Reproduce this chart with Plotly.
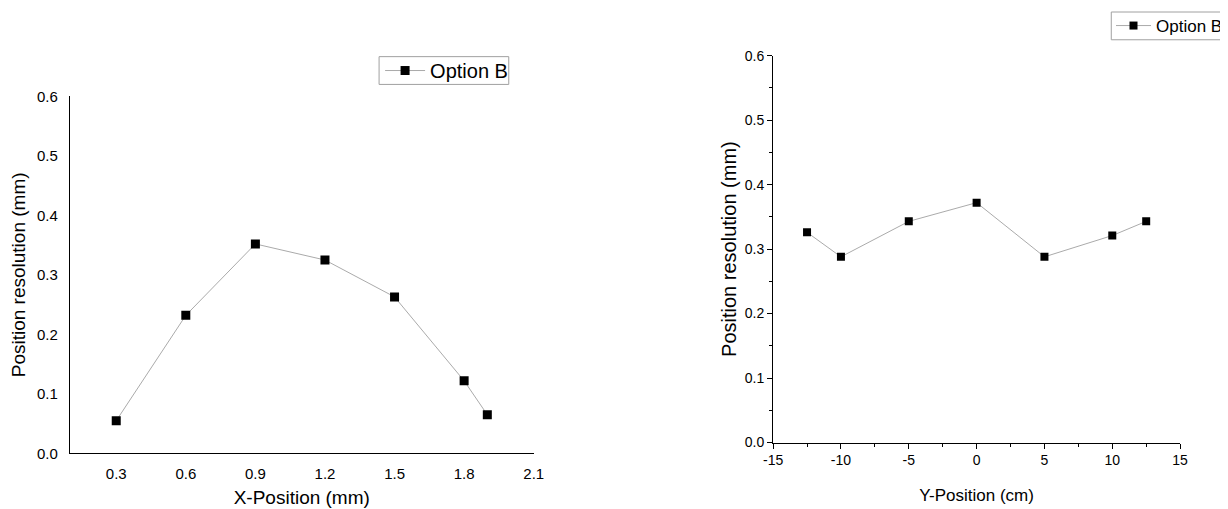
import plotly.graph_objects as go

# Data
x_pos_mm = [0.3, 0.6, 0.9, 1.2, 1.5, 1.8, 1.9]
res_x = [0.055, 0.232, 0.352, 0.325, 0.263, 0.122, 0.065]

y_pos_cm = [-12.5, -10, -5, 0, 5, 10, 12.5]
res_y = [0.326, 0.288, 0.343, 0.372, 0.288, 0.321, 0.343]

x2_ticks = [-15, -10, -5, 0, 5, 10, 15]
x2_ticktext = ["-15", "-10", "-5", "0", "5", "10", "15"]

series_name = "Option B"

# page body has an 8px margin; figure sized to fit the window
OFF = 8
W, H = 1220, 501
def px(x):
    return (x - OFF) / W
def py(y):
    return 1 - (y - OFF) / H

FONT = "Liberation Sans, Arial, sans-serif"

fig = go.Figure()
fig.add_trace(go.Scatter(
    x=x_pos_mm, y=res_x, mode="lines+markers", name=series_name,
    line=dict(color="#a0a0a0", width=0.9),
    marker=dict(symbol="square", size=9, color="black"),
    xaxis="x", yaxis="y", legend="legend",
))
fig.add_trace(go.Scatter(
    x=y_pos_cm, y=res_y, mode="lines+markers", name=series_name,
    line=dict(color="#a0a0a0", width=0.9),
    marker=dict(symbol="square", size=8, color="black"),
    xaxis="x2", yaxis="y2", legend="legend2",
))

# right legend frame: open on the right (cut by the window edge)
rx0, rx1, ry0, ry1 = px(1114), 1.0, py(36), py(8)
right_frame = f"M {rx1},{ry0} L {rx0},{ry0} L {rx0},{ry1} L {rx1},{ry1}"

fig.update_layout(
    width=W, height=H,
    margin=dict(l=0, r=0, t=0, b=0),
    paper_bgcolor="white", plot_bgcolor="white",
    font=dict(family=FONT, color="black"),
    xaxis=dict(
        domain=[px(70), px(535)], anchor="y",
        range=[0.1, 2.1], tick0=0.3, dtick=0.3, tickformat=".1f",
        showgrid=False, zeroline=False, showline=True, linecolor="black", linewidth=1.2,
        ticks="outside", ticklen=6, tickcolor="rgba(0,0,0,0)",
        tickfont=dict(size=15, family=FONT),
        title=dict(text="X-Position (mm)", font=dict(size=19, family=FONT), standoff=10),
        automargin=False,
    ),
    yaxis=dict(
        domain=[py(453), py(93)], anchor="x",
        range=[0, 0.6], dtick=0.1, tickformat=".1f",
        showgrid=False, zeroline=False, showline=True, linecolor="black", linewidth=1.2,
        ticks="outside", ticklen=8, tickcolor="rgba(0,0,0,0)",
        tickfont=dict(size=15, family=FONT),
        title=dict(text="Position resolution (mm)", font=dict(size=19, family=FONT), standoff=6),
        automargin=False,
    ),
    xaxis2=dict(
        domain=[px(775), px(1183)], anchor="y2",
        range=[-15, 15], tickvals=x2_ticks, ticktext=x2_ticktext,
        showgrid=False, zeroline=False, showline=True, linecolor="black", linewidth=1.2,
        ticks="outside", ticklen=5, tickwidth=1, tickcolor="black",
        minor=dict(dtick=2.5, ticks="outside", ticklen=3, tickcolor="black"),
        tickfont=dict(size=14, family=FONT),
        title=dict(text="Y-Position (cm)", font=dict(size=17, family=FONT), standoff=21),
        automargin=False,
    ),
    yaxis2=dict(
        domain=[py(442), py(52)], anchor="x2",
        range=[0, 0.6], dtick=0.1, tickformat=".1f",
        showgrid=False, zeroline=False, showline=True, linecolor="black", linewidth=1.2,
        ticks="outside", ticklen=5, tickwidth=1, tickcolor="black",
        minor=dict(dtick=0.05, ticks="outside", ticklen=3, tickcolor="black"),
        tickfont=dict(size=14, family=FONT),
        title=dict(text="Position resolution (mm)", font=dict(size=20, family=FONT), standoff=2),
        automargin=False,
    ),
    legend=dict(
        x=px(381), y=py(67), xanchor="left", yanchor="middle",
        borderwidth=0, bgcolor="rgba(0,0,0,0)",
        font=dict(size=20, family=FONT), itemwidth=40,
    ),
    legend2=dict(
        x=px(1114), y=py(22), xanchor="left", yanchor="middle",
        borderwidth=0, bgcolor="rgba(0,0,0,0)",
        font=dict(size=17, family=FONT), itemwidth=35,
    ),
    shapes=[
        dict(type="rect", xref="paper", yref="paper",
             x0=px(380), x1=px(510), y0=py(81), y1=py(53),
             line=dict(color="#a0a0a0", width=1), layer="below"),
        dict(type="path", xref="paper", yref="paper", path=right_frame,
             line=dict(color="#a0a0a0", width=1), layer="below"),
    ],
    showlegend=True,
)

fig.write_html("out.html")
